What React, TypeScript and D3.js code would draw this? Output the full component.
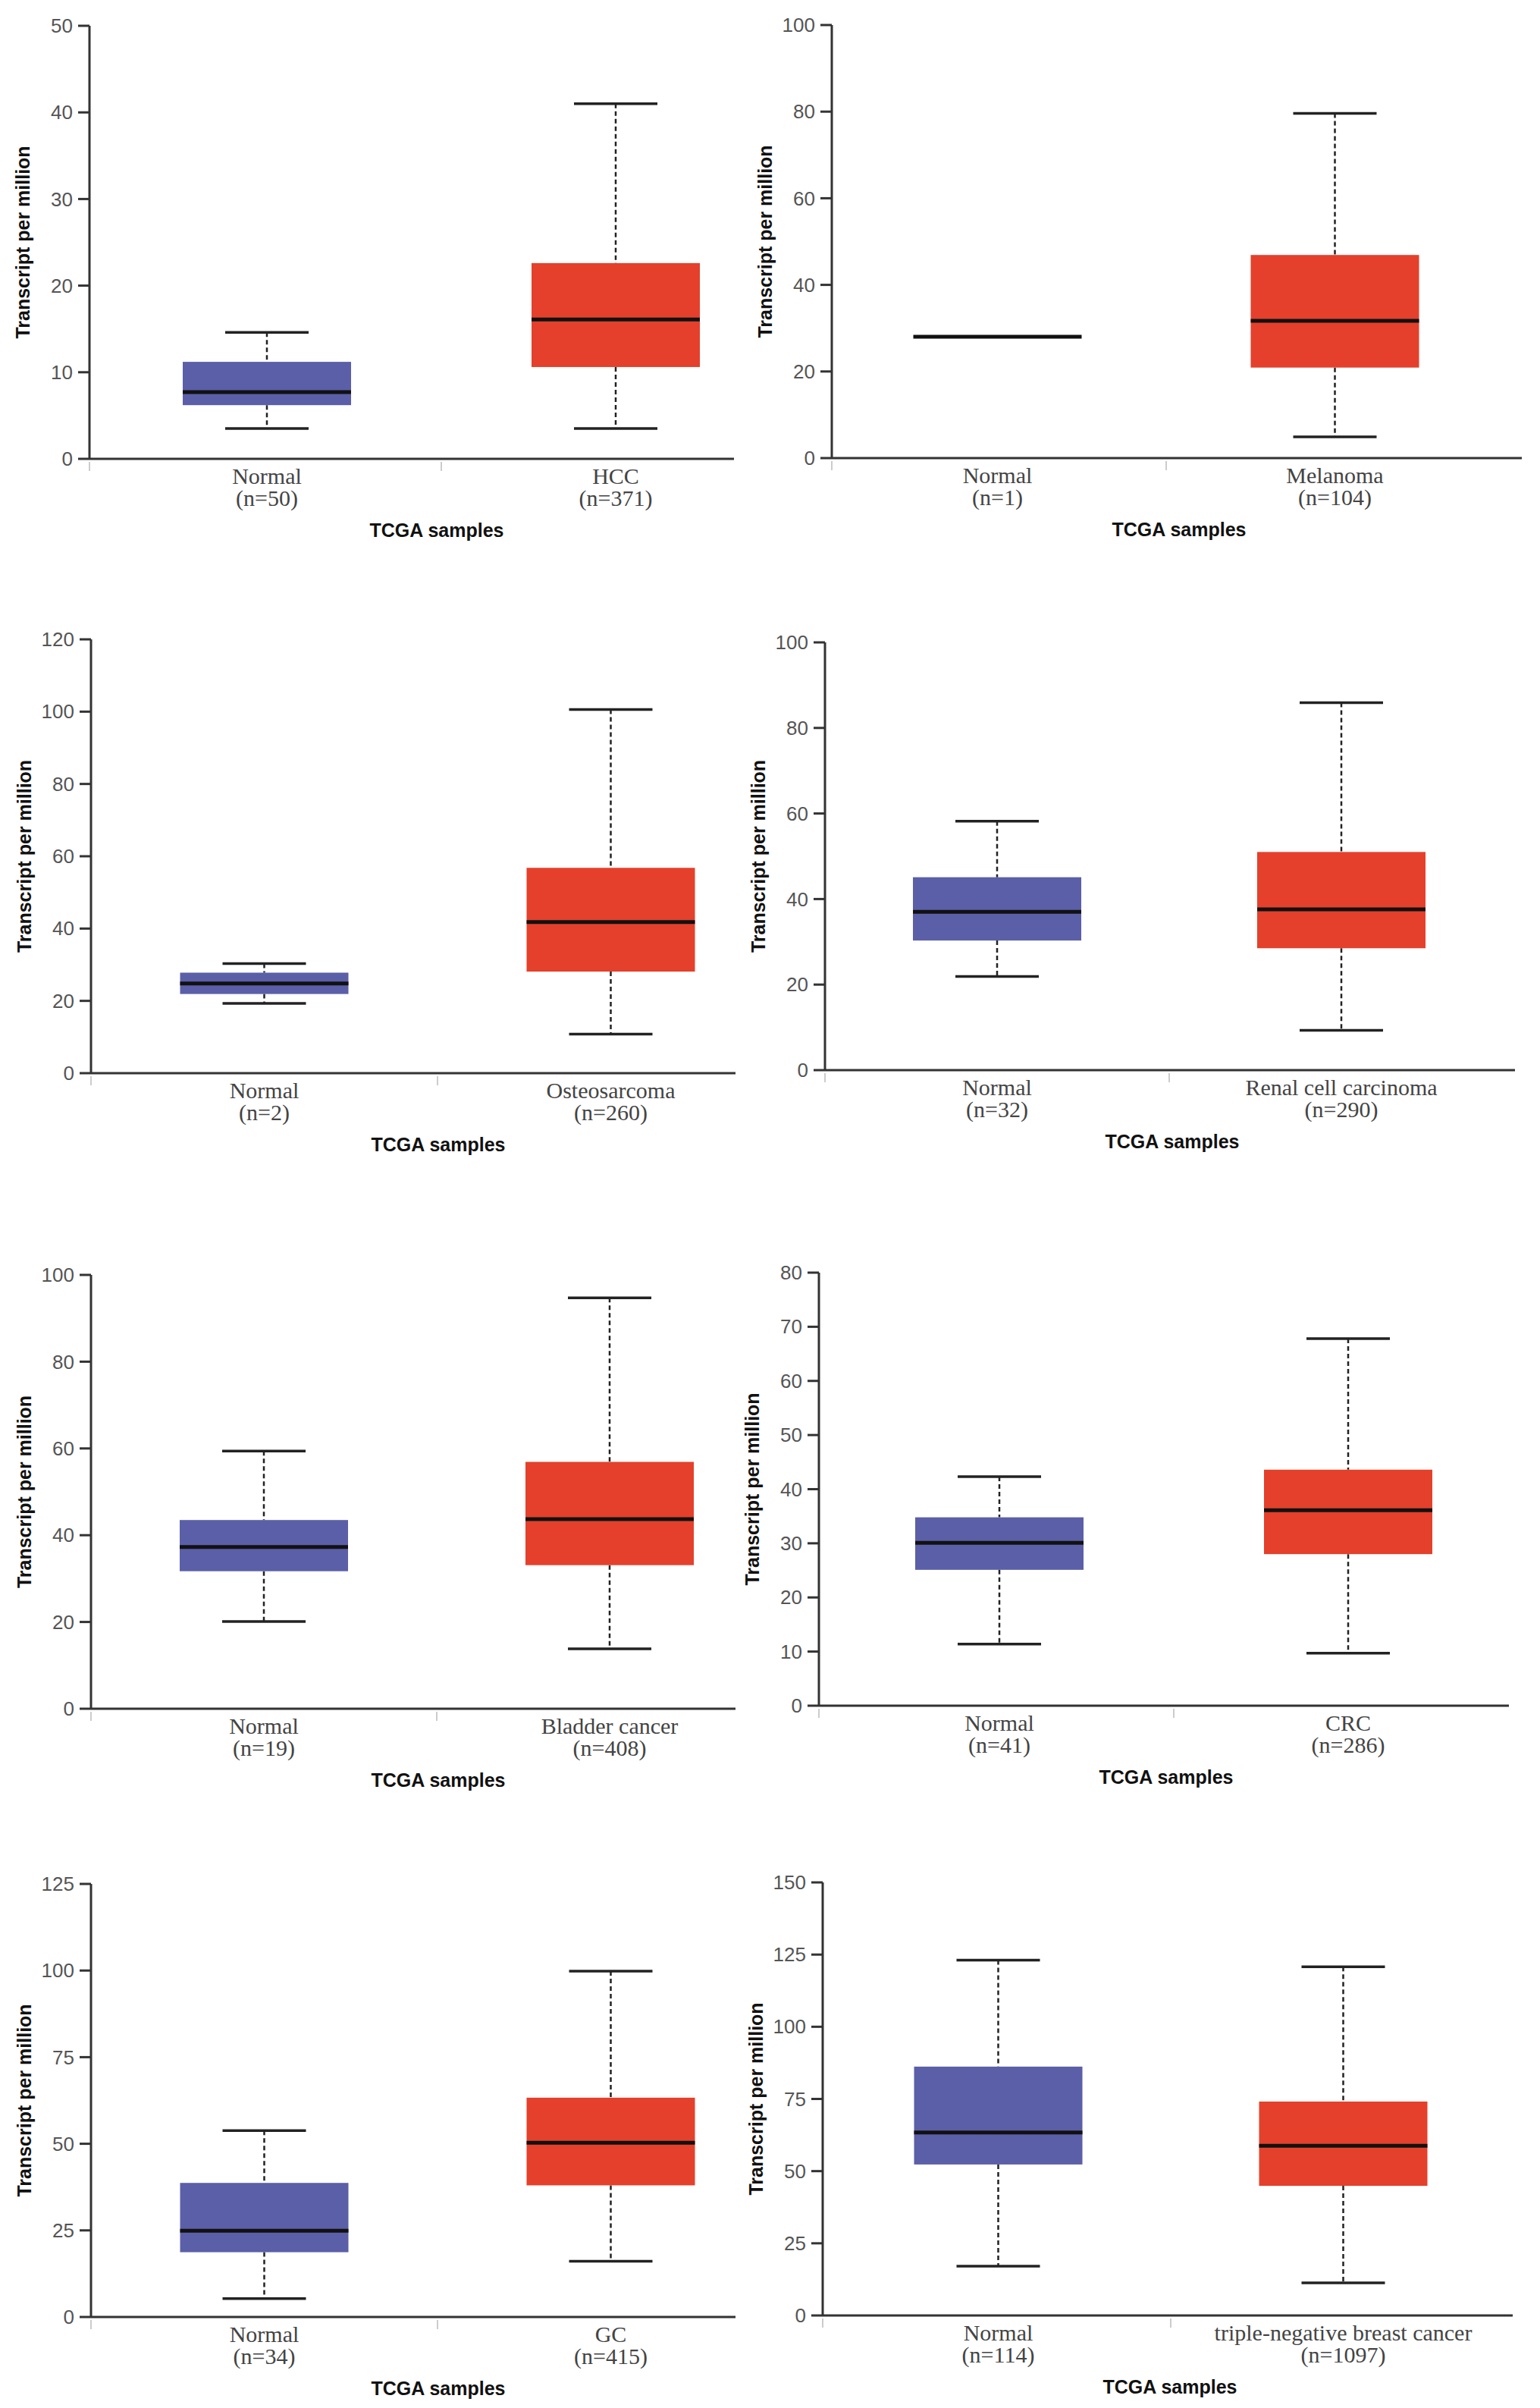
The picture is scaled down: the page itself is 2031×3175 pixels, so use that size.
import React from "react";
import * as d3 from "d3";

// sample groups per panel
const cancerTypes = [
  "HCC",
  "Melanoma",
  "Osteosarcoma",
  "Renal cell carcinoma",
  "Bladder cancer",
  "CRC",
  "GC",
  "triple-negative breast cancer",
];
const normalCounts = [50, 1, 2, 32, 19, 41, 34, 114];
const tumorCounts = [371, 104, 260, 290, 408, 286, 415, 1097];

// y axis domain max and tick step
const yMaxes = [50, 100, 120, 100, 100, 80, 125, 150];
const yTickSteps = [10, 20, 20, 20, 20, 10, 25, 25];

// [lower whisker, q1, median, q3, upper whisker]
const normalStats = [
  [3.5, 6.2, 7.7, 11.2, 14.6],
  [28, 28, 28, 28, 28],
  [19.3, 21.9, 24.8, 27.8, 30.3],
  [21.9, 30.3, 37.0, 45.1, 58.2],
  [20.1, 31.7, 37.3, 43.5, 59.4],
  [11.4, 25.1, 30.1, 34.8, 42.3],
  [5.3, 18.7, 24.9, 38.7, 53.8],
  [17.1, 52.3, 63.4, 86.2, 123.1],
];
const tumorStats = [
  [3.5, 10.6, 16.1, 22.6, 41.0],
  [4.9, 20.9, 31.7, 46.9, 79.6],
  [10.8, 28.1, 41.8, 56.8, 100.6],
  [9.3, 28.5, 37.6, 51.0, 85.9],
  [13.8, 33.1, 43.7, 56.9, 94.7],
  [9.7, 28.0, 36.1, 43.6, 67.8],
  [16.1, 38.0, 50.3, 63.3, 99.8],
  [11.3, 44.9, 58.8, 74.1, 120.8],
];

// panel placement on the page
const panelX = [118, 1097, 120, 1088, 120, 1080, 120, 1085];
const panelTop = [34, 33, 843, 847, 1681, 1678, 2484, 2482];
const panelH = [571, 571, 572, 564, 572, 571, 571, 571];
const bandStart = [4, -4, 0, 0, 0, 8, 0, 4];
const bandEnd = [924, 886, 914, 908, 912, 928, 914, 914];

const BLUE = "#5b5fa8";
const RED = "#e4402b";
const AXIS = "#333";

const sans = "'Liberation Sans', Arial, sans-serif";
const serif = "'Liberation Serif', 'Times New Roman', serif";

const Panel: React.FC<{ i: number }> = ({ i }) => {
  const x0 = panelX[i];
  const top = panelTop[i];
  const h = panelH[i];
  const right = i % 2 === 0 ? 850 : 910;

  const y = d3.scaleLinear().domain([0, yMaxes[i]]).range([h, 0]);
  const ticks = d3.range(0, yMaxes[i] + 0.001, yTickSteps[i]);

  const groups = [
    { label: "Normal", n: normalCounts[i], s: normalStats[i], color: BLUE },
    { label: cancerTypes[i], n: tumorCounts[i], s: tumorStats[i], color: RED },
  ];
  const x = d3
    .scaleBand<string>()
    .domain(groups.map((g) => g.label))
    .range([bandStart[i], bandEnd[i]]);

  const boxW = 222;
  const capW = 110;

  return (
    <g transform={`translate(${x0},${top})`}>
      {/* faint category ticks */}
      {[0, x.bandwidth() + bandStart[i]].map((d) => (
        <line key={d} x1={d} x2={d} y1={h + 4} y2={h + 16} stroke="#ccc" strokeWidth={2} />
      ))}

      {groups.map((g) => {
        const cx = (x(g.label) ?? 0) + x.bandwidth() / 2;
        const [lo, q1, med, q3, hi] = g.s;
        const single = lo === hi;
        return (
          <g key={g.label}>
            {!single && (
              <>
                <line x1={cx} x2={cx} y1={y(hi)} y2={y(q3)} stroke="#222" strokeWidth={2.5} strokeDasharray="6,4" />
                <line x1={cx} x2={cx} y1={y(q1)} y2={y(lo)} stroke="#222" strokeWidth={2.5} strokeDasharray="6,4" />
                <line x1={cx - capW / 2} x2={cx + capW / 2} y1={y(hi)} y2={y(hi)} stroke="#222" strokeWidth={3.5} />
                <line x1={cx - capW / 2} x2={cx + capW / 2} y1={y(lo)} y2={y(lo)} stroke="#222" strokeWidth={3.5} />
                <rect x={cx - boxW / 2} y={y(q3)} width={boxW} height={y(q1) - y(q3)} fill={g.color} />
              </>
            )}
            <line x1={cx - boxW / 2} x2={cx + boxW / 2} y1={y(med)} y2={y(med)} stroke="#111" strokeWidth={5} />
            <text x={cx} y={h + 33} textAnchor="middle" fontFamily={serif} fontSize={30} fill="#444">
              {g.label}
            </text>
            <text x={cx} y={h + 62} textAnchor="middle" fontFamily={serif} fontSize={30} fill="#444">
              {`(n=${g.n})`}
            </text>
          </g>
        );
      })}

      {/* y axis */}
      <line x1={0} x2={0} y1={0} y2={h} stroke={AXIS} strokeWidth={3} />
      {ticks.map((t) => (
        <g key={t} transform={`translate(0,${y(t)})`}>
          <line x1={-15} x2={0} stroke={AXIS} strokeWidth={3} />
          <text x={-22} dy="0.35em" textAnchor="end" fontFamily={sans} fontSize={26} fill="#555">
            {t}
          </text>
        </g>
      ))}
      {/* x axis */}
      <line x1={0} x2={right} y1={h} y2={h} stroke={AXIS} strokeWidth={3} />

      <text
        transform={`translate(-88,${h / 2}) rotate(-90)`}
        dy="0.35em"
        textAnchor="middle"
        fontFamily={sans}
        fontWeight="bold"
        fontSize={25}
        fill="#111"
      >
        Transcript per million
      </text>
      <text x={458} y={h + 103} textAnchor="middle" fontFamily={sans} fontWeight="bold" fontSize={25} fill="#111">
        TCGA samples
      </text>
    </g>
  );
};

export default function App() {
  return (
    <svg
      width={2031}
      height={3175}
      style={{ position: "absolute", left: 0, top: 0, background: "#fff" }}
    >
      <rect width={2031} height={3175} fill="#fff" />
      {cancerTypes.map((_, i) => (
        <Panel key={i} i={i} />
      ))}
    </svg>
  );
}
